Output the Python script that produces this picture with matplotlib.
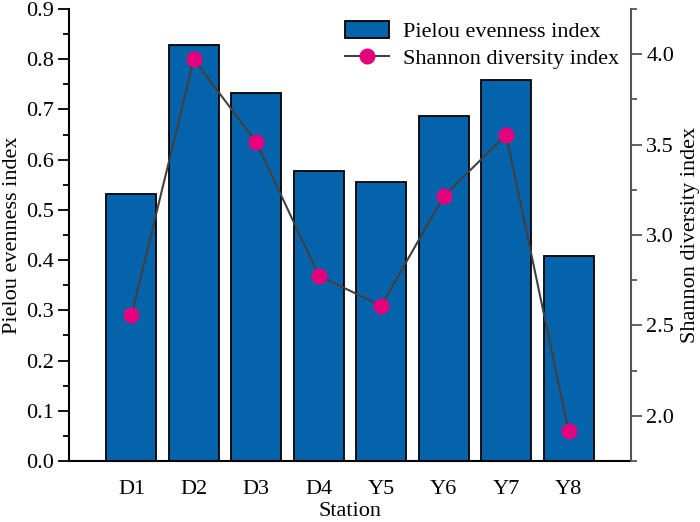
import matplotlib
matplotlib.use("Agg")
import matplotlib.pyplot as plt
from matplotlib.ticker import MultipleLocator
import numpy as np

stations = ["D1", "D2", "D3", "D4", "Y5", "Y6", "Y7", "Y8"]
pielou = [0.532, 0.829, 0.732, 0.578, 0.556, 0.686, 0.758, 0.408]
shannon = [2.556, 3.972, 3.513, 2.775, 2.608, 3.214, 3.554, 1.917]

plt.rcParams['font.family'] = ['Liberation Serif', 'DejaVu Serif']
plt.rcParams['font.size'] = 16

fig = plt.figure(figsize=(7.0, 5.22), dpi=100)
ax = fig.add_axes([69/700, 1 - 461/522, (631-69)/700, (461-9)/522])
x = np.arange(1, len(stations) + 1)
bars = ax.bar(x, pielou, width=0.8, color='#0563AB', edgecolor='black', linewidth=1.3,
              label='Pielou evenness index', zorder=2)
ax.set_xlim(0, 9)
ax.set_ylim(0, 0.9)
ax.yaxis.set_minor_locator(MultipleLocator(0.05))
ax.set_yticks(np.arange(0, 0.91, 0.1))
ax.set_yticklabels([f"{v:.1f}" for v in np.arange(0, 0.91, 0.1)])
ax.set_xticks(x)
ax.set_xticklabels(stations)
ax.tick_params(axis='x', length=0, pad=14)
ax.tick_params(axis='y', which='major', direction='out', length=8, width=1.3, pad=3)
ax.tick_params(axis='y', which='minor', direction='out', length=4, width=1.3)
ax.spines['top'].set_visible(False)
ax.spines['right'].set_visible(False)
ax.spines['left'].set_linewidth(1.5)
ax.spines['bottom'].set_linewidth(1.5)
ax.set_ylabel('Pielou evenness index', labelpad=3)
ax.set_xlabel('Station', labelpad=2)

ax2 = ax.twinx()
line, = ax2.plot(x, shannon, color='#404040', linewidth=1.5, marker='o', markersize=10.5,
                 markerfacecolor='#E5007D', markeredgecolor='#E5007D',
                 label='Shannon diversity index', zorder=3)
ax2.set_ylim(1.75, 4.25)
ax2.yaxis.set_minor_locator(MultipleLocator(0.25))
ax2.set_yticks([2.0, 2.5, 3.0, 3.5, 4.0])
ax2.set_yticklabels(["2.0", "2.5", "3.0", "3.5", "4.0"])
ax2.tick_params(axis='y', which='major', direction='out', length=8, width=1.3, color='#555555', pad=3)
ax2.tick_params(axis='y', which='minor', direction='out', length=4, width=1.3, color='#555555')
for s in ['top', 'left', 'bottom']:
    ax2.spines[s].set_visible(False)
ax2.spines['right'].set_color('#555555')
ax2.spines['right'].set_linewidth(1.5)
ax2.set_ylabel('Shannon diversity index', labelpad=5)

leg = ax2.legend([bars, line], ['Pielou evenness index', 'Shannon diversity index'],
                 loc='upper right', bbox_to_anchor=(1.0, 1.0), frameon=False,
                 handlelength=2.0, handleheight=0.8, borderaxespad=0.15, labelspacing=0.25,
                 fontsize=16, handletextpad=0.6)

fig.savefig('out.png', dpi=100)
